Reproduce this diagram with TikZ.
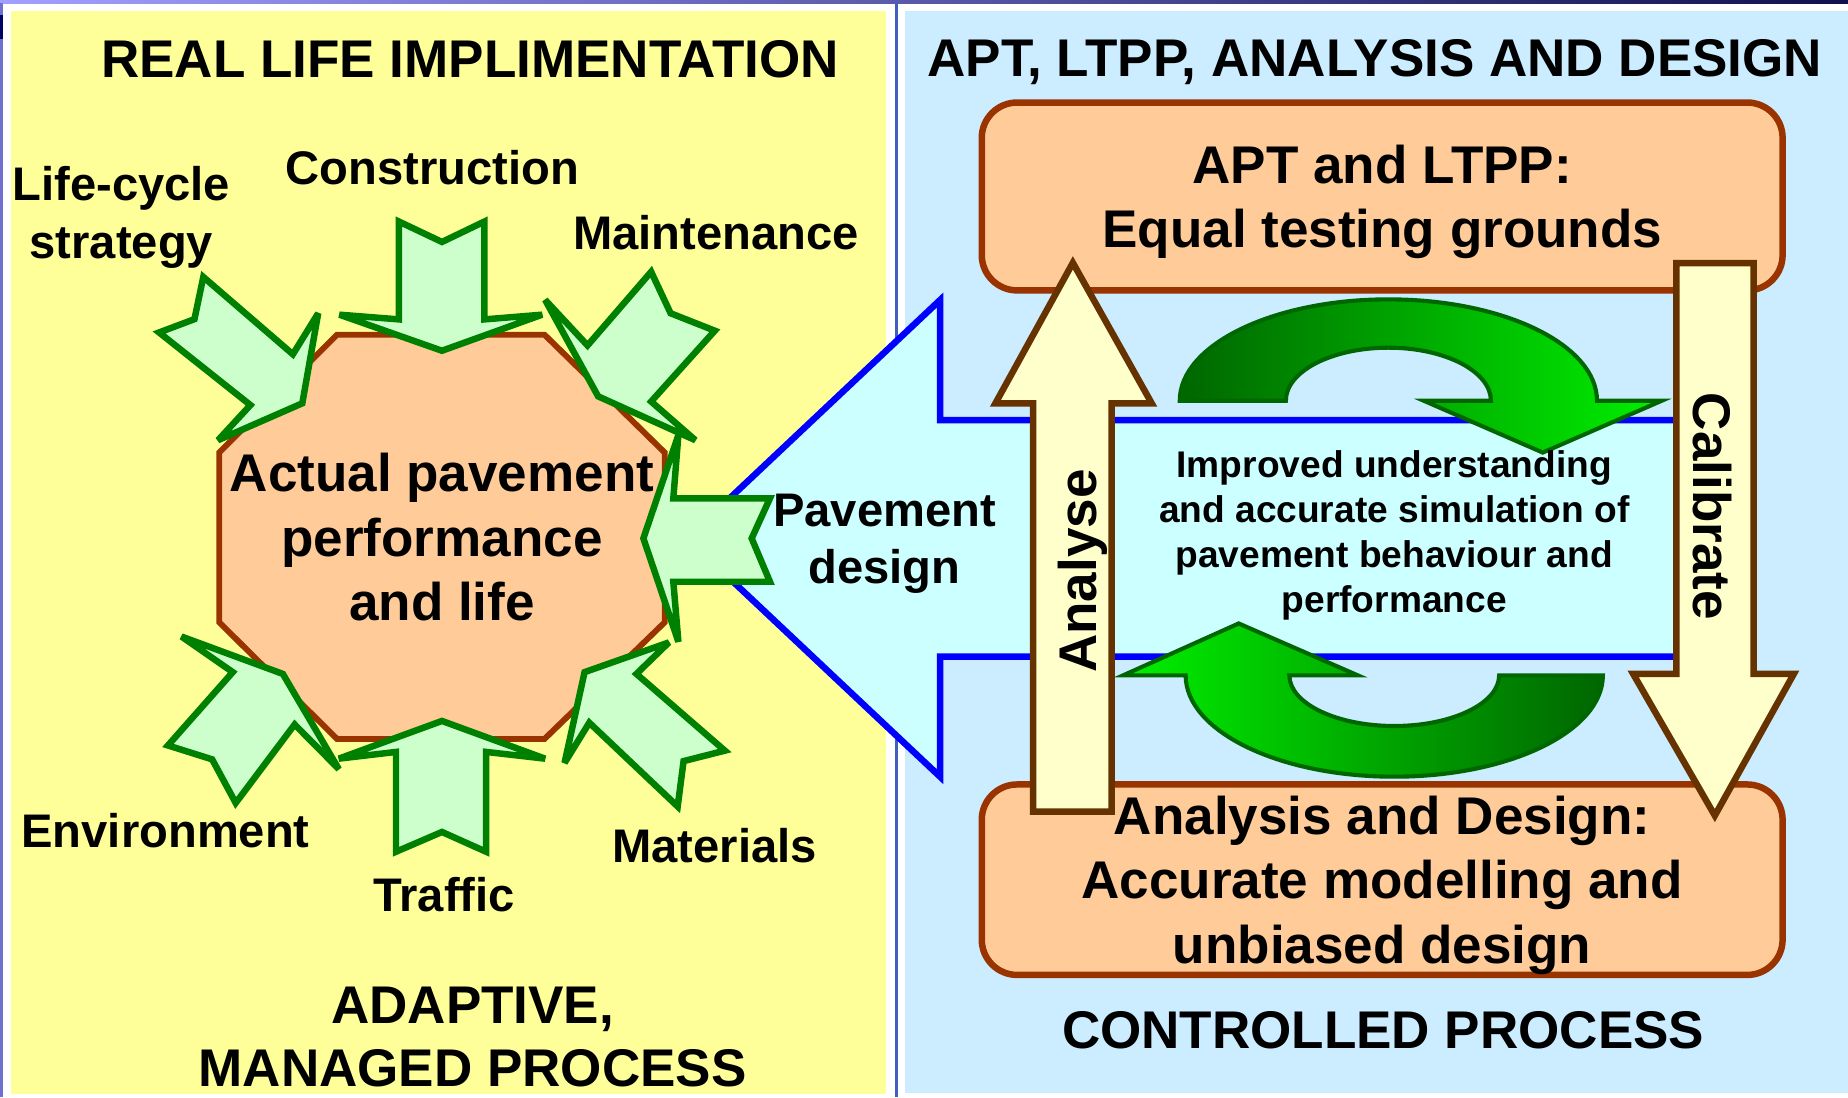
\documentclass[tikz,border=0pt]{standalone}
\usepackage{fontspec}
\setmainfont{Liberation Sans}
\definecolor{panelY}{HTML}{FFFF99}
\definecolor{panelB}{HTML}{CCECFF}
\definecolor{peach}{HTML}{FFCC99}
\definecolor{rust}{HTML}{993300}
\definecolor{mint}{HTML}{CCFFCC}
\definecolor{leaf}{HTML}{008000}
\definecolor{cream}{HTML}{FFFFCC}
\definecolor{umber}{HTML}{663300}
\definecolor{cyanfill}{HTML}{CCFFFF}
\definecolor{pureblue}{HTML}{0000FF}
\definecolor{dkgreen}{HTML}{006600}
\definecolor{brgreen}{HTML}{00F000}
\definecolor{topL}{HTML}{A0A0FF}
\definecolor{topM}{HTML}{60C8FF}
\definecolor{topR}{HTML}{101050}
\definecolor{edgeL}{HTML}{7070D0}
\definecolor{navyblk}{HTML}{000066}
\definecolor{divider}{HTML}{4060C0}
\tikzset{
  garrow/.style={draw=leaf, fill=mint, line width=5.5pt, miter limit=3},
  yarrow/.style={draw=umber, fill=cream, line width=5.5pt, miter limit=3},
  barrow/.style={draw=pureblue, fill=cyanfill, line width=5.5pt, miter limit=3},
  carrow/.style={draw=dkgreen, line width=3.5pt},
  pbox/.style={draw=rust, fill=peach, line width=5.5pt, rounded corners=30pt},
  octa/.style={draw=rust, fill=peach, line width=5pt},
  lab/.style={inner sep=0pt, text=black},
  mlab/.style={inner sep=0pt, text=black, align=center},
  f45/.style={font=\bfseries\fontsize{45}{54}\selectfont},
  f40/.style={font=\bfseries\fontsize{40}{49}\selectfont}
}
\begin{document}
\begin{tikzpicture}[x=1pt,y=1pt,yscale=-1]
\useasboundingbox (0,0) rectangle (1568,931);
% background and panels
\fill[white] (0,0) rectangle (1568,931);
\shade[left color=topL, middle color=topM, right color=topR] (0,0) rectangle (1568,2.6);
\fill[edgeL] (0,2.6) rectangle (2.6,931);
\fill[navyblk] (0,12.7) rectangle (2.6,33);
\fill[panelY] (9.3,9.3) rectangle (752,928.5);
\fill[divider] (759.5,2.6) rectangle (762,931);
\fill[panelB] (768,9.3) rectangle (1568,927.5);

% octagon
\draw[octa] (286,284) -- (462,284) -- (564,384) -- (564,528) -- (462,627)
  -- (286,627) -- (186,528) -- (186,384) -- cycle;

% big blue arrow
\draw[barrow] (583,456.8) -- (797.6,254.6) -- (797.6,356.4) -- (1440,356.4)
  -- (1440,557.2) -- (797.6,557.2) -- (797.6,659) -- cycle;

% small green arrows
% life-cycle
\draw[garrow] (172.5,235) -- (248.5,300.6) -- (270,265.8) -- (256.5,342.2)
  -- (185,373.5) -- (212.5,343.7) -- (135,282.1) -- (165,270.8) -- cycle;
% construction
\draw[garrow] (338.5,188) -- (375,205.3) -- (411,188) -- (411,271) -- (460,267)
  -- (375,297.6) -- (288,267) -- (338.5,271) -- cycle;
% maintenance
\draw[garrow] (552.5,230.6) -- (498.5,293.1) -- (462.5,254.4) -- (507.5,336.3)
  -- (590,373.5) -- (552.5,340.7) -- (606.5,280.6) -- (569,265.8) -- cycle;
% environment
\draw[garrow] (154,540.1) -- (240,571.8) -- (287.5,652.6) -- (250,614.7)
  -- (200,681.3) -- (180,644.3) -- (142.5,632.5) -- (197.5,570.3) -- cycle;
% traffic
\draw[garrow] (375,611.7) -- (462.5,643.7) -- (412.5,638) -- (412.5,722.7)
  -- (375,705.9) -- (336,722.7) -- (336,638) -- (287.5,643.7) -- cycle;
% materials
\draw[garrow] (567.5,545.1) -- (540,571.8) -- (615,636.9) -- (580,645.8)
  -- (575,684.3) -- (500,613.2) -- (479,647.3) -- (496,570.3) -- cycle;
% pavement design
\draw[garrow] (545.9,456.8) -- (575.6,369.1) -- (571.3,422.8) -- (653.3,422.8)
  -- (637.8,456.8) -- (653.3,493.6) -- (571.3,493.6) -- (575.6,544.5) -- cycle;

% boxes
\draw[pbox] (833,87) rectangle (1512.5,246.4);
\draw[pbox] (833,665.6) rectangle (1512.5,827.2);

% curved green arrows
\draw[carrow, left color=dkgreen, right color=brgreen]
  (1001,340) arc[start angle=180, end angle=360, x radius=177, y radius=86]
  -- (1410,340) -- (1309,384) -- (1208,340) -- (1265,340)
  arc[start angle=360, end angle=180, x radius=87, y radius=45] -- cycle;
\draw[carrow, left color=brgreen, right color=dkgreen]
  (1360,573) arc[start angle=0, end angle=180, x radius=177, y radius=86]
  -- (953,573) -- (1051,529) -- (1152,573) -- (1094,573)
  arc[start angle=180, end angle=0, x radius=89, y radius=43] -- cycle;

% yellow arrows
\draw[yarrow] (876.6,688.7) -- (876.6,342.2) -- (844.6,342.2) -- (910.3,223)
  -- (977.2,342.2) -- (943.1,342.2) -- (943.1,688.7) -- cycle;
\draw[yarrow] (1422.4,223.2) -- (1488,223.2) -- (1488,571.8) -- (1522,571.8)
  -- (1455,692) -- (1385.7,571.8) -- (1422.4,571.8) -- cycle;

% texts
\node[lab, f45, anchor=base] (titleL) at (398.8,65.5) {REAL LIFE IMPLIMENTATION};
\node[lab, f45, anchor=base] (titleR) at (1166.5,64.9) {APT, LTPP, ANALYSIS AND DESIGN};
\node[mlab, f40, anchor=north] (lifecycle) at (103,135.9) {\strut Life-cycle\\\strut strategy};
\node[lab, f40, anchor=base] (construction) at (366.8,156.2) {Construction};
\node[lab, f40, anchor=base] (maintenance) at (607.5,211.3) {Maintenance};
\node[mlab, font=\bfseries\fontsize{45}{55}\selectfont, anchor=north] (actual) at (375,378.1)
  {\strut Actual pavement\\\strut performance\\\strut and life};
\node[mlab, font=\bfseries\fontsize{40}{48}\selectfont, anchor=north] (pavdesign) at (750.5,413.3)
  {\strut Pavement\\\strut design};
\node[lab, f40, anchor=base] (environment) at (140.5,718.9) {Environment};
\node[lab, f40, anchor=base] (traffic) at (376.8,773) {Traffic};
\node[lab, f40, anchor=base] (materials) at (606.3,732.2) {Materials};
\node[mlab, f45, anchor=north] (adaptive) at (401,830) {\strut ADAPTIVE,\\\strut MANAGED PROCESS};
\node[mlab, font=\bfseries\fontsize{45}{54.5}\selectfont, anchor=north] (apttext) at (1172.8,117.2)
  {\strut APT and LTPP:\\\strut Equal testing grounds};
\node[mlab, font=\bfseries\fontsize{31.5}{38}\selectfont, anchor=north] (improved) at (1183,378.7)
  {\strut Improved understanding\\\strut and accurate simulation of\\\strut pavement behaviour and\\\strut performance};
\node[mlab, font=\bfseries\fontsize{45}{54.5}\selectfont, anchor=north] (adtext) at (1172.7,669.8)
  {\strut Analysis and Design:\\\strut Accurate modelling and\\\strut unbiased design};
\node[lab, f45, anchor=base] (controlled) at (1173.6,889.4) {CONTROLLED PROCESS};
\node[lab, f45, anchor=base, rotate=90] (analyse) at (930,484.5) {Analyse};
\node[lab, f45, anchor=base, rotate=-90] (calibrate) at (1437,429.6) {Calibrate};
\end{tikzpicture}
\end{document}
